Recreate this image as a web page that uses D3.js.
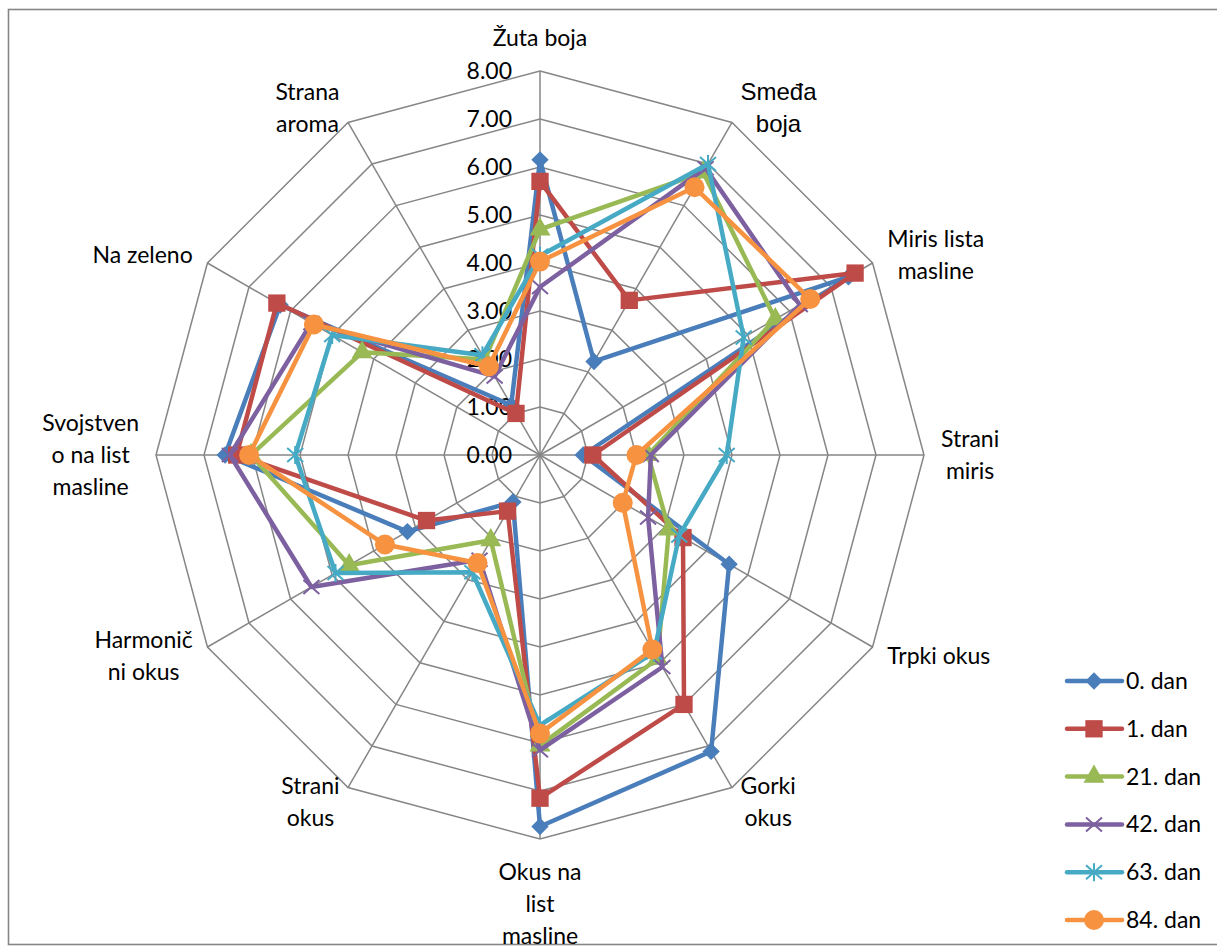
<!DOCTYPE html>
<html>
<head>
<meta charset="utf-8">
<script src="https://cdn.jsdelivr.net/npm/d3@7"></script>
<style>
  html, body { margin: 0; padding: 0; background: #fff; }
  svg { display: block; }
</style>
</head>
<body>
<svg id="chart" width="1217" height="947"></svg>
<script>
// Sensory attributes (one spoke each, clockwise from the top)
const axes = [
  ["Žuta boja"],
  ["Smeđa", "boja"],
  ["Miris lista", "masline"],
  ["Strani", "miris"],
  ["Trpki okus"],
  ["Gorki", "okus"],
  ["Okus na", "list", "masline"],
  ["Strani", "okus"],
  ["Harmonič", "ni okus"],
  ["Svojstven", "o na list", "masline"],
  ["Na zeleno"],
  ["Strana", "aroma"]
];
const tickValues = [0, 1, 2, 3, 4, 5, 6, 7, 8];
const tickLabels = ["0.00", "1.00", "2.00", "3.00", "4.00", "5.00", "6.00", "7.00", "8.00"];

const days = ["0. dan", "1. dan", "21. dan", "42. dan", "63. dan", "84. dan"];
const day0  = [6.15, 2.25, 7.42, 0.90, 4.55, 7.13, 7.74, 1.13, 3.19, 6.56, 6.25, 1.20];
const day1  = [5.70, 3.72, 7.58, 1.10, 3.44, 6.00, 7.15, 1.35, 2.73, 6.32, 6.33, 1.00];
const day21 = [4.70, 6.80, 5.66, 2.25, 3.10, 4.90, 6.05, 2.05, 4.59, 6.02, 4.28, 2.30];
const day42 = [3.50, 6.90, 6.25, 2.31, 2.60, 5.10, 6.15, 2.52, 5.50, 6.46, 5.50, 1.89];
const day63 = [4.15, 7.00, 4.90, 3.89, 3.35, 4.75, 5.63, 2.82, 4.92, 5.10, 5.00, 2.40];
const day84 = [4.03, 6.44, 6.50, 2.01, 1.99, 4.68, 5.80, 2.60, 3.73, 6.06, 5.44, 2.13];
const seriesValues = [day0, day1, day21, day42, day63, day84];

const colors = ["#4A7EBB", "#BE4B48", "#98B954", "#7D60A0", "#46AAC5", "#F69240"];
const markers = ["diamond", "square", "triangle", "x", "star", "circle"];

const svg = d3.select("#chart");
const W = 1217, H = 947;
const cx = 540, cy = 455, R = 384;
const font = "Lato, 'Open Sans', sans-serif";
const gridColor = "#868686";

// chart-area frame
svg.append("rect")
  .attr("x", 8.5).attr("y", 9.5)
  .attr("width", W + 10).attr("height", 935)
  .attr("fill", "#fff")
  .attr("stroke", gridColor).attr("stroke-width", 1.6);

const r = d3.scaleLinear().domain([0, 8]).range([0, R]);
const n = axes.length;
const angle = i => i * 2 * Math.PI / n;
const px = (i, v) => r(v) * Math.sin(angle(i));
const py = (i, v) => -r(v) * Math.cos(angle(i));

const g = svg.append("g").attr("transform", `translate(${cx},${cy})`);

// web grid
const ring = d3.lineRadial()
  .angle((d, i) => angle(i))
  .radius(d => r(d))
  .curve(d3.curveLinearClosed);

g.append("g").selectAll("path")
  .data(tickValues.filter(v => v > 0))
  .join("path")
  .attr("d", v => ring(d3.range(n).map(() => v)))
  .attr("fill", "none")
  .attr("stroke", gridColor)
  .attr("stroke-width", 1.5);

g.append("g").selectAll("line")
  .data(d3.range(n))
  .join("line")
  .attr("x1", 0).attr("y1", 0)
  .attr("x2", i => px(i, 8)).attr("y2", i => py(i, 8))
  .attr("stroke", gridColor)
  .attr("stroke-width", 1.5);

// value axis labels
g.append("g").selectAll("text")
  .data(tickValues)
  .join("text")
  .attr("x", -28)
  .attr("y", v => -r(v) + 8)
  .attr("text-anchor", "end")
  .attr("font-family", font)
  .attr("font-size", 23)
  .attr("fill", "#000")
  .text((v, i) => tickLabels[i]);

// category labels
const lineH = 32, gap = 17;
const labelG = g.append("g");
axes.forEach((lines, i) => {
  const a = angle(i);
  const s = Math.sin(a), c = Math.cos(a);
  const isArial = i === 1;
  const t = labelG.append("text")
    .attr("font-family", isArial ? "'Liberation Sans', Arial, sans-serif" : font)
    .attr("font-size", isArial ? 24 : 23)
    .attr("fill", "#000")
    .attr("text-anchor", "middle");
  lines.forEach(ln => t.append("tspan").text(ln));
  // widest line sets the horizontal offset from the spoke tip
  const w = d3.max(t.selectAll("tspan").nodes().map(nd => nd.getComputedTextLength()));
  const h = lines.length * lineH;
  const rp = R + gap;
  let x = rp * s, y = -rp * c;
  if (Math.abs(s) < 1e-6) {
    y += (c > 0 ? -1 : 1) * h / 2;
  } else {
    x += (s > 0 ? 1 : -1) * w / 2;
  }
  const y0 = y - h / 2 + lineH / 2;
  t.selectAll("tspan")
    .attr("x", x)
    .attr("y", (d, k) => y0 + k * lineH + 8);
});

// marker drawing
function drawMarker(sel, type, color) {
  if (type === "diamond") {
    sel.append("path")
      .attr("d", d3.symbol(d3.symbolSquare, 150)())
      .attr("transform", "rotate(45)")
      .attr("fill", color);
  } else if (type === "square") {
    sel.append("path")
      .attr("d", d3.symbol(d3.symbolSquare, 300)())
      .attr("fill", color);
  } else if (type === "triangle") {
    sel.append("path")
      .attr("d", d3.symbol(d3.symbolTriangle, 190)())
      .attr("fill", color);
  } else if (type === "x") {
    sel.append("path")
      .attr("d", "M-8,-7L8,7M-8,7L8,-7")
      .attr("stroke", color).attr("stroke-width", 2).attr("fill", "none");
  } else if (type === "star") {
    sel.append("path")
      .attr("d", "M-8,-7L8,7M-8,7L8,-7M0,-9L0,9")
      .attr("stroke", color).attr("stroke-width", 2).attr("fill", "none");
  } else {
    sel.append("circle").attr("r", 10).attr("fill", color);
  }
}

// series
const line = d3.lineRadial()
  .angle((d, i) => angle(i))
  .radius(d => r(d))
  .curve(d3.curveLinearClosed);

seriesValues.forEach((vals, si) => {
  const sg = g.append("g");
  sg.append("path")
    .attr("d", line(vals))
    .attr("fill", "none")
    .attr("stroke", colors[si])
    .attr("stroke-width", 4.5)
    .attr("stroke-linejoin", "round");
  vals.forEach((v, i) => {
    const m = sg.append("g").attr("transform", `translate(${px(i, v)},${py(i, v)})`);
    drawMarker(m, markers[si], colors[si]);
  });
});

// legend
const legend = svg.append("g");
days.forEach((d, si) => {
  const y = 681 + si * 47.8;
  const lg = legend.append("g").attr("transform", `translate(0,${y})`);
  lg.append("line")
    .attr("x1", 1067).attr("x2", 1122)
    .attr("y1", 0).attr("y2", 0)
    .attr("stroke", colors[si]).attr("stroke-width", 4.5)
    .attr("stroke-linecap", "round");
  const m = lg.append("g").attr("transform", "translate(1094,0)");
  drawMarker(m, markers[si], colors[si]);
  lg.append("text")
    .attr("x", 1126).attr("y", 8)
    .attr("font-family", font)
    .attr("font-size", 23)
    .attr("fill", "#000")
    .text(d);
});
</script>
</body>
</html>
